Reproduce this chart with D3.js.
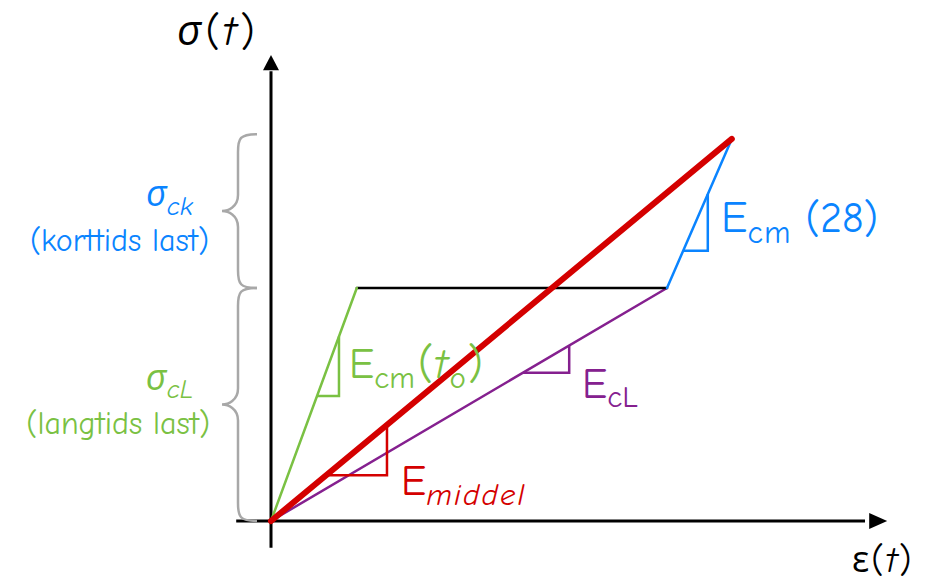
<!DOCTYPE html>
<html lang="no">
<head>
<meta charset="UTF-8">
<title>kryp - E-modul</title>
<script src="https://cdn.jsdelivr.net/npm/d3@7"></script>
<style>
  body { margin: 0; background: #fff; }
  text { font-family: "Comic Sans MS", "Comic Neue", "Open Sans", sans-serif; }
</style>
</head>
<body>
<svg width="930" height="584"></svg>
<script>
// data: spennings-toyningsforlop (eps i promille-ish enheter, sigma i vilkarlige enheter)
var curveEps = [0, 1.43, 6.6, 7.68];   // start, momentan, etter kryp, full last
var curveSig = [0, 10, 10, 16.4];
var braceSig = [0, 10, 16.6];          // grenser for sigma_cL og sigma_ck
// helningstrekanter: [eps0, eps1] langs hver linje
var triGreen = [0.767, 1.133];
var triRed = [0.917, 1.933];
var triPurple = [4.2, 4.97];
var triBlue = [6.87, 7.28];

var colGreen = '#7ac143', colBlue = '#0a84ff', colRed = '#d40000',
    colPurple = '#85208f', colGrey = '#a8a8a8';

var svg = d3.select('svg');
var x = d3.scaleLinear().domain([0, 10]).range([271, 871]);
var y = d3.scaleLinear().domain([0, 20]).range([521, 55]);

var P = curveEps.map(function (e, i) { return [e, curveSig[i]]; });
var line = d3.line().x(function (d) { return x(d[0]); }).y(function (d) { return y(d[1]); });

// akser
svg.append('line').attr('x1', x(-0.58)).attr('x2', x(9.9)).attr('y1', y(0)).attr('y2', y(0))
    .attr('stroke', '#000').attr('stroke-width', 3);
svg.append('line').attr('x1', x(0)).attr('x2', x(0)).attr('y1', y(-1.15)).attr('y2', y(19.3))
    .attr('stroke', '#000').attr('stroke-width', 3);
svg.append('path').attr('d', 'M' + x(10.27) + ',' + y(0) + 'L' + (x(9.97)) + ',' + (y(0) - 8) + 'L' + x(9.97) + ',' + (y(0) + 8) + 'Z')
    .attr('fill', '#000');
svg.append('path').attr('d', 'M' + x(0) + ',' + y(20) + 'L' + (x(0) - 8) + ',' + y(19.35) + 'L' + (x(0) + 8) + ',' + y(19.35) + 'Z')
    .attr('fill', '#000');

// klammer
function brace(s0, s1) {
    var y0 = y(s1), y1 = y(s0), m = (y0 + y1) / 2;
    var xe = 257, xv = 238, xt = 222;
    return 'M' + xe + ',' + y0 +
        'C' + (xv + 2) + ',' + y0 + ' ' + xv + ',' + (y0 + 4) + ' ' + xv + ',' + (y0 + 18) +
        'L' + xv + ',' + (m - 16) +
        'C' + xv + ',' + (m - 4) + ' ' + (xt + 6) + ',' + m + ' ' + xt + ',' + m +
        'C' + (xt + 6) + ',' + m + ' ' + xv + ',' + (m + 4) + ' ' + xv + ',' + (m + 16) +
        'L' + xv + ',' + (y1 - 18) +
        'C' + xv + ',' + (y1 - 4) + ' ' + (xv + 2) + ',' + y1 + ' ' + xe + ',' + y1;
}
svg.append('path').attr('d', brace(braceSig[1], braceSig[2])).attr('fill', 'none')
    .attr('stroke', colGrey).attr('stroke-width', 2.5);
svg.append('path').attr('d', brace(braceSig[0], braceSig[1])).attr('fill', 'none')
    .attr('stroke', colGrey).attr('stroke-width', 2.5);

// linjer
function seg(a, b, col, w) {
    svg.append('path').attr('d', line([a, b])).attr('fill', 'none')
        .attr('stroke', col).attr('stroke-width', w).attr('stroke-linecap', 'round');
}
seg(P[0], P[2], colPurple, 2.5);
seg(P[1], P[2], '#000', 2.5);
seg(P[0], P[1], colGreen, 2.5);
seg(P[2], P[3], colBlue, 2.5);

// helningstrekanter
function tri(a, b, e, col) {
    var k = (b[1] - a[1]) / (b[0] - a[0]);
    var s0 = a[1] + k * (e[0] - a[0]), s1 = a[1] + k * (e[1] - a[0]);
    svg.append('path').attr('d', line([[e[0], s0], [e[1], s0], [e[1], s1]]))
        .attr('fill', 'none').attr('stroke', col).attr('stroke-width', 2.5);
}
tri(P[0], P[1], triGreen, colGreen);
tri(P[0], P[3], triRed, colRed);
tri(P[0], P[2], triPurple, colPurple);
tri(P[2], P[3], triBlue, colBlue);

seg(P[0], P[3], colRed, 6);

// tekst
function label(xp, yp, parts, col, anchor) {
    var t = svg.append('text').attr('x', xp).attr('y', yp).attr('fill', col)
        .attr('text-anchor', anchor || 'start');
    parts.forEach(function (p) {
        var ts = t.append('tspan').text(p.t).attr('font-size', p.s);
        if (p.dy) ts.attr('dy', p.dy);
        if (p.dx) ts.attr('dx', p.dx);
        if (p.it) ts.attr('font-style', 'italic');
        if (p.ls) ts.attr('letter-spacing', p.ls);
    });
    return t;
}

label(177, 45, [{t: 'σ', s: 42, it: 1, ls: 4}, {t: '(', s: 42, ls: 3}, {t: 't', s: 42, it: 1, ls: 4}, {t: ')', s: 42}], '#000');
label(852, 572, [{t: 'ε', s: 36, ls: 2}, {t: '(', s: 36, ls: 2}, {t: 't', s: 36, it: 1, ls: 2}, {t: ')', s: 36}], '#000');

label(193, 206, [{t: 'σ', s: 36, it: 1}, {t: 'ck', s: 27, it: 1, dy: 9}], colBlue, 'end');
label(209, 251, [{t: '(korttids last)', s: 32}], colBlue, 'end');
label(193, 390, [{t: 'σ', s: 36, it: 1}, {t: 'cL', s: 27, it: 1, dy: 8}], colGreen, 'end');
label(210, 434, [{t: '(langtids last)', s: 32}], colGreen, 'end');

label(721, 232, [{t: 'E', s: 44}, {t: 'cm', s: 32, dy: 11, ls: 1}, {t: ' (28)', s: 42, dy: -11}], colBlue);
label(349, 378, [{t: 'E', s: 42}, {t: 'cm', s: 31, dy: 10}, {t: '(', s: 44, dy: -10, dx: 3, ls: 1}, {t: 't', s: 42, it: 1}, {t: 'o', s: 31, dy: 10, dx: 2}, {t: ')', s: 44, dy: -10, dx: 2}], colGreen);
label(582, 398, [{t: 'E', s: 42}, {t: 'cL', s: 31, dy: 9}], colPurple);
label(401, 495, [{t: 'E', s: 42}, {t: 'middel', s: 31, it: 1, dy: 10, ls: 2}], colRed);
</script>
</body>
</html>
